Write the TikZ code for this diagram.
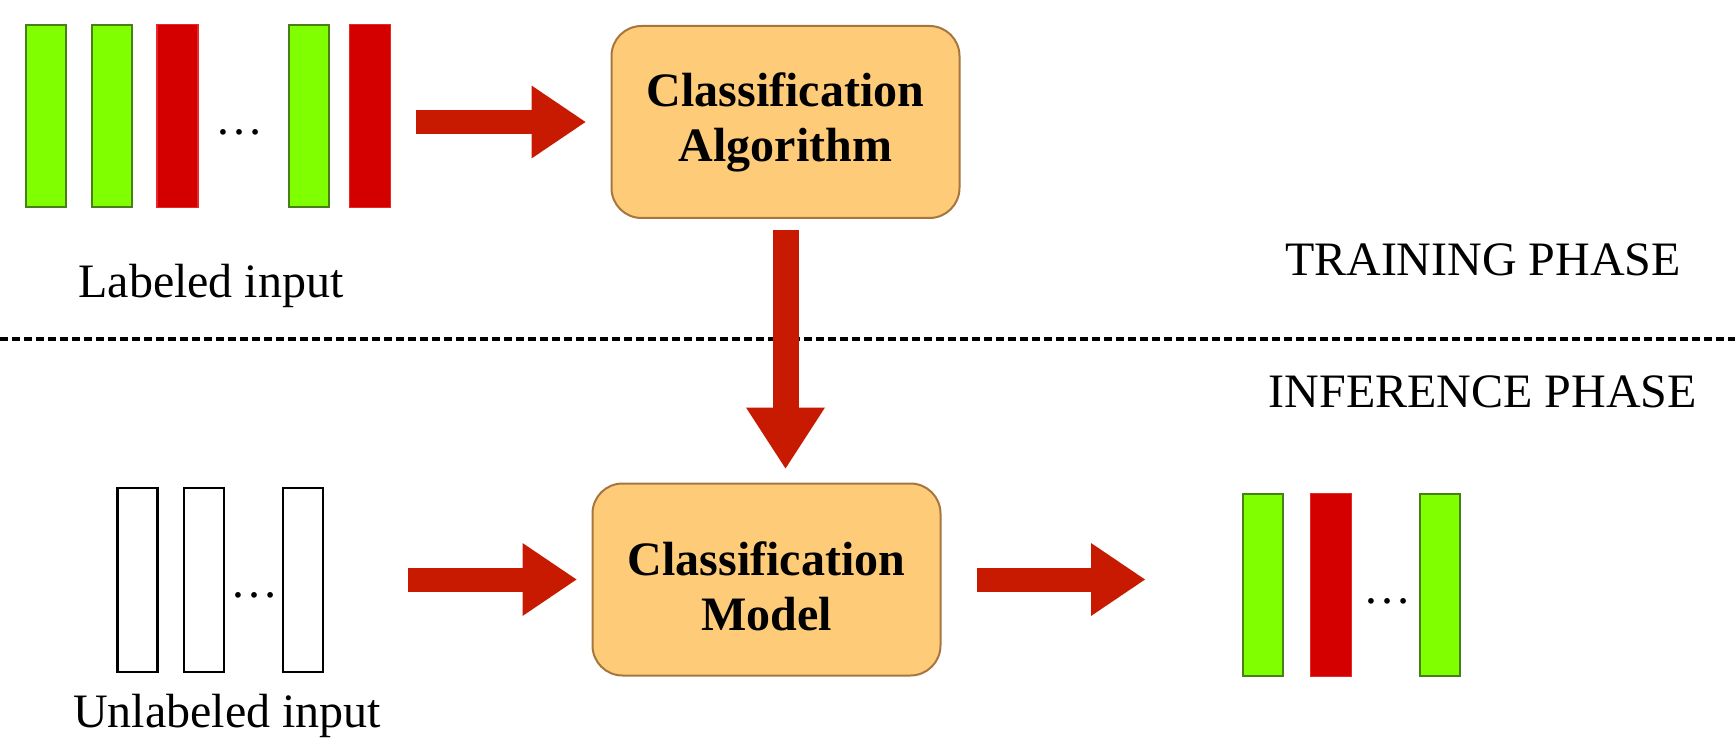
\documentclass[tikz,border=0pt]{standalone}
\usepackage{fontspec}
\setmainfont{Liberation Serif}
\usetikzlibrary{positioning,fit,arrows.meta}

\definecolor{goodfill}{RGB}{128,255,0}
\definecolor{goodline}{RGB}{72,128,22}
\definecolor{badfill}{RGB}{212,0,0}
\definecolor{badline}{RGB}{232,40,40}
\definecolor{procfill}{RGB}{254,204,120}
\definecolor{procline}{RGB}{166,118,62}
\definecolor{flowred}{RGB}{200,26,0}

\begin{document}
\begin{tikzpicture}[
		x=0.5pt, y=-0.5pt,
		every node/.style = {
			inner sep=0pt, outer sep=0pt,
			font=\fontsize{24}{27.5}\selectfont
		},
		good/.style = {draw=goodline, fill=goodfill, line width=1pt,
			minimum width=20pt, minimum height=91pt},
		bad/.style = {draw=badline, fill=badfill, line width=0.6pt,
			minimum width=20.5pt, minimum height=91.5pt},
		blank/.style = {draw=black, line width=1.2pt,
			minimum width=20pt, minimum height=92pt},
		proc/.style = {draw=procline, fill=procfill, line width=1pt,
			rounded corners=15pt, minimum width=174pt, minimum height=96pt,
			align=center, font=\bfseries\fontsize{24}{27.5}\selectfont},
		flow/.style = {draw=flowred, line width=12pt,
			-{Triangle[length=27pt,width=36.5pt,line width=0pt]}},
		sepline/.style = {draw=black, line width=1.5pt, dash pattern=on 4pt off 2pt}
		]
		\path[use as bounding box, fill=white] (0,0) rectangle (1735,743);
		
		% training phase
		\node[good] (l1) at (45.5,116) {};
		\node[good] (l2) at (112,116) {};
		\node[bad] (l3) at (177.5,116) {};
		\node[anchor=base] (ldots) at (239,134.5) {…};
		\node[good] (l4) at (309,116) {};
		\node[bad] (l5) at (370,116) {};
		\node[fit=(l1)(l5)] (lin) {};
		\node[anchor=base] (ltxt) at (211,298) {Labeled input};
		
		\node[proc] (algo) at (785.5,122) {Classification\\Algorithm};
		\node[anchor=base] (train) at (1483,276) {TRAINING PHASE};
		
		\draw[flow, shorten <=12.5pt, shorten >=13pt] (lin.east |- algo.west) -- (algo.west);
		
		\draw[sepline] (0,339) -- (1735,339);
		
		% inference phase
		\node[anchor=base] (infer) at (1483,407) {INFERENCE PHASE};
		
		\node[blank] (u1) at (137.5,580) {};
		\node[blank] (u2) at (204,580) {};
		\node[anchor=base] (udots) at (254,597) {…};
		\node[blank] (u3) at (303,580) {};
		\node[fit=(u1)(u3)] (uin) {};
		\node[anchor=base] (utxt) at (227,727) {Unlabeled input};
		
		\node[proc] (model) at (766.5,579.5) {\rule{0pt}{24pt}Classification\\Model};
		
		\node[good] (o1) at (1263,585) {};
		\node[bad] (o2) at (1331,585) {};
		\node[anchor=base] (odots) at (1387,603.5) {…};
		\node[good] (o3) at (1440,585) {};
		\node[fit=(o1)(o3)] (out) {};
		
		\draw[flow, line width=13pt, -{Triangle[length=30.5pt,width=39.5pt,line width=0pt]},
			shorten <=6pt, shorten >=7.5pt] (algo.south) -- (algo.south |- model.north);
		\draw[flow, shorten <=42.5pt, shorten >=8pt] (uin.east |- model.west) -- (model.west);
		\draw[flow, shorten <=18pt, shorten >=49pt] (model.east) -- (model.east -| out.west);
	\end{tikzpicture}
\end{document}
